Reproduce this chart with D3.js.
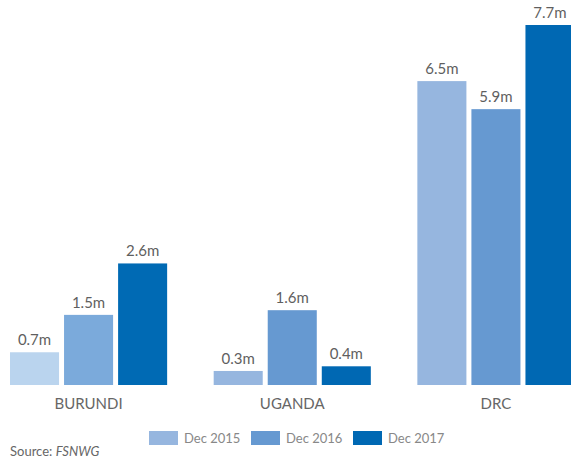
<!DOCTYPE html>
<html>
<head>
<meta charset="utf-8">
<script src="https://cdn.jsdelivr.net/npm/d3@7"></script>
<style>
  body { margin: 0; background: #fff; }
  svg { display: block; font-family: Lato, "Open Sans", sans-serif; }
</style>
</head>
<body>
<div id="chart"></div>
<script>
// values in millions
const countries = ["BURUNDI", "UGANDA", "DRC"];
const periods = ["Dec 2015", "Dec 2016", "Dec 2017"];
const dec2015 = [0.7, 0.3, 6.5];
const dec2016 = [1.5, 1.6, 5.9];
const dec2017 = [2.6, 0.4, 7.7];

const colors = ["#96b6df", "#6699d1", "#0068b3"];
// burundi bars are drawn a bit lighter in the original
const burundiColors = ["#bad4ee", "#7baadb", "#006ab4"];

const width = 571,
  height = 461;

const series = [dec2015, dec2016, dec2017];
const data = countries.map((c, i) => ({
  country: c,
  values: periods.map((p, j) => ({ period: p, value: series[j][i] })),
}));

const svg = d3
  .select("#chart")
  .append("svg")
  .attr("width", width)
  .attr("height", height);

const x0 = d3
  .scaleBand()
  .domain(countries)
  .range([10, 574.5])
  .paddingInner(0.2285)
  .paddingOuter(0);

const x1 = d3
  .scaleBand()
  .domain(periods)
  .range([0, x0.bandwidth()])
  .paddingInner(0.0926);

const y = d3.scaleLinear().domain([0, 7.7]).range([385, 25]);

const groups = svg
  .selectAll("g.country")
  .data(data)
  .enter()
  .append("g")
  .attr("class", "country")
  .attr("transform", (d) => `translate(${x0(d.country)},0)`);

groups
  .selectAll("rect")
  .data((d) => d.values.map((v, j) => ({ ...v, country: d.country, j })))
  .enter()
  .append("rect")
  .attr("x", (d) => x1(d.period))
  .attr("y", (d) => y(d.value))
  .attr("width", x1.bandwidth())
  .attr("height", (d) => y(0) - y(d.value))
  .attr("fill", (d) => (d.country === "BURUNDI" ? burundiColors[d.j] : colors[d.j]));

groups
  .selectAll("text.val")
  .data((d) => d.values)
  .enter()
  .append("text")
  .attr("class", "val")
  .attr("x", (d) => x1(d.period) + x1.bandwidth() / 2)
  .attr("y", (d) => y(d.value) - 7)
  .attr("text-anchor", "middle")
  .attr("font-size", "15px")
  .attr("fill", "#5f5f5f")
  .text((d) => d.value.toFixed(1) + "m");

groups
  .append("text")
  .attr("x", x0.bandwidth() / 2)
  .attr("y", 409)
  .attr("text-anchor", "middle")
  .attr("font-size", "15px")
  .attr("fill", "#666")
  .text((d) => d.country);

// legend
const legend = svg
  .selectAll("g.legend")
  .data(periods)
  .enter()
  .append("g")
  .attr("class", "legend")
  .attr("transform", (d, i) => `translate(${149 + i * 102},431)`);

legend
  .append("rect")
  .attr("width", 29)
  .attr("height", 14)
  .attr("fill", (d, i) => colors[i]);

legend
  .append("text")
  .attr("x", 35)
  .attr("y", 12)
  .attr("font-size", "13px")
  .attr("fill", "#888")
  .text((d) => d);

const source = svg
  .append("text")
  .attr("x", 10)
  .attr("y", 456)
  .attr("font-size", "13px")
  .attr("fill", "#666");
source.append("tspan").text("Source: ");
source.append("tspan").attr("font-style", "italic").text("FSNWG");
</script>
</body>
</html>
